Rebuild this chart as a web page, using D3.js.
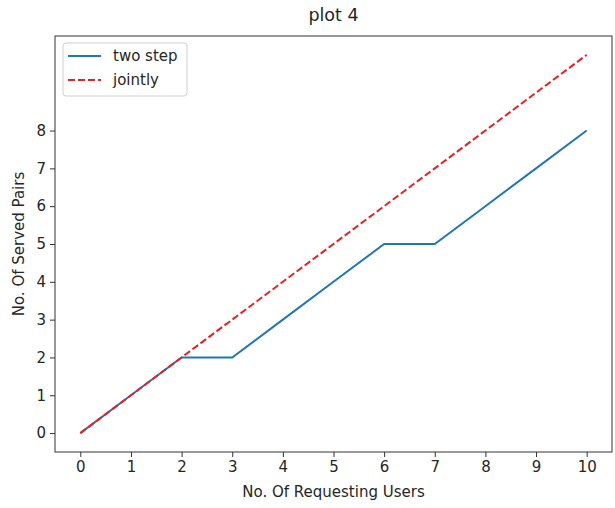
<!DOCTYPE html>
<html>
<head>
<meta charset="utf-8">
<script src="https://cdn.jsdelivr.net/npm/d3@7"></script>
<style>
  body { margin: 0; background: #fff; }
  text { font-family: "DejaVu Sans", sans-serif; fill: #262626; }
</style>
</head>
<body>
<figure id="chart" style="margin:0"></figure>
<script>
// data
const users = [0, 1, 2, 3, 4, 5, 6, 7, 8, 9, 10];
const twoStep = [0, 1, 2, 2, 3, 4, 5, 5, 6, 7, 8];
const jointly = [0, 1, 2, 3, 4, 5, 6, 7, 8, 9, 10];
const xTicks = [0, 1, 2, 3, 4, 5, 6, 7, 8, 9, 10];
const yTicks = [0, 1, 2, 3, 4, 5, 6, 7, 8];

const width = 615, height = 508;
const margin = { left: 55, right: 3, top: 36, bottom: 56 };
const w = width - margin.left - margin.right;
const h = height - margin.top - margin.bottom;
const fs = "15px";

const svg = d3.select("figure#chart")
  .append("svg")
  .attr("width", width)
  .attr("height", height);

const g = svg.append("g")
  .attr("transform", "translate(" + margin.left + "," + margin.top + ")");

const x = d3.scaleLinear().domain([-0.5, 10.5]).range([0, w]);
const y = d3.scaleLinear().domain([-0.5, 10.5]).range([h, 0]);

// axes
const xAxis = g.append("g")
  .attr("transform", "translate(0," + h + ")")
  .call(d3.axisBottom(x).tickValues(xTicks).tickFormat(d3.format("d")).tickSize(5).tickPadding(4));
const yAxis = g.append("g")
  .call(d3.axisLeft(y).tickValues(yTicks).tickFormat(d3.format("d")).tickSize(5).tickPadding(4));

[xAxis, yAxis].forEach(a => {
  a.select(".domain").remove();
  a.selectAll("line").attr("stroke", "#333");
  a.selectAll("text").style("font-size", fs).attr("fill", "#262626");
});

// frame
g.append("rect")
  .attr("width", w).attr("height", h)
  .attr("fill", "none").attr("stroke", "#333").attr("stroke-width", 1);

// lines
const line = d3.line().x((d, i) => x(users[i])).y(d => y(d));

g.append("path")
  .datum(twoStep)
  .attr("d", line)
  .attr("fill", "none")
  .attr("stroke", "#1f77b4")
  .attr("stroke-width", 2);

g.append("path")
  .datum(jointly)
  .attr("d", line)
  .attr("fill", "none")
  .attr("stroke", "#e8201f")
  .attr("stroke-width", 2)
  .attr("stroke-dasharray", "7,3");

// title and axis labels
svg.append("text")
  .attr("x", margin.left + w / 2).attr("y", 21)
  .attr("text-anchor", "middle")
  .style("font-size", "17.5px")
  .text("plot 4");

svg.append("text")
  .attr("x", margin.left + w / 2).attr("y", 497)
  .attr("text-anchor", "middle")
  .style("font-size", fs)
  .text("No. Of Requesting Users");

svg.append("text")
  .attr("transform", "translate(24," + (margin.top + h / 2) + ") rotate(-90)")
  .attr("text-anchor", "middle")
  .style("font-size", fs)
  .text("No. Of Served Pairs");

// legend
const legend = g.append("g").attr("transform", "translate(8,7)");
legend.append("rect")
  .attr("width", 124).attr("height", 53).attr("rx", 3)
  .attr("fill", "#fff").attr("fill-opacity", 0.8)
  .attr("stroke", "#d0d0d0");

const items = [
  { name: "two step", color: "#1f77b4", dash: null },
  { name: "jointly", color: "#e8201f", dash: "7,3" }
];
items.forEach((d, i) => {
  const yy = 13 + i * 24;
  legend.append("line")
    .attr("x1", 5).attr("x2", 38).attr("y1", yy).attr("y2", yy)
    .attr("stroke", d.color).attr("stroke-width", 2)
    .attr("stroke-dasharray", d.dash);
  legend.append("text")
    .attr("x", 50).attr("y", yy).attr("dy", "0.35em")
    .style("font-size", fs)
    .text(d.name);
});
</script>
</body>
</html>
